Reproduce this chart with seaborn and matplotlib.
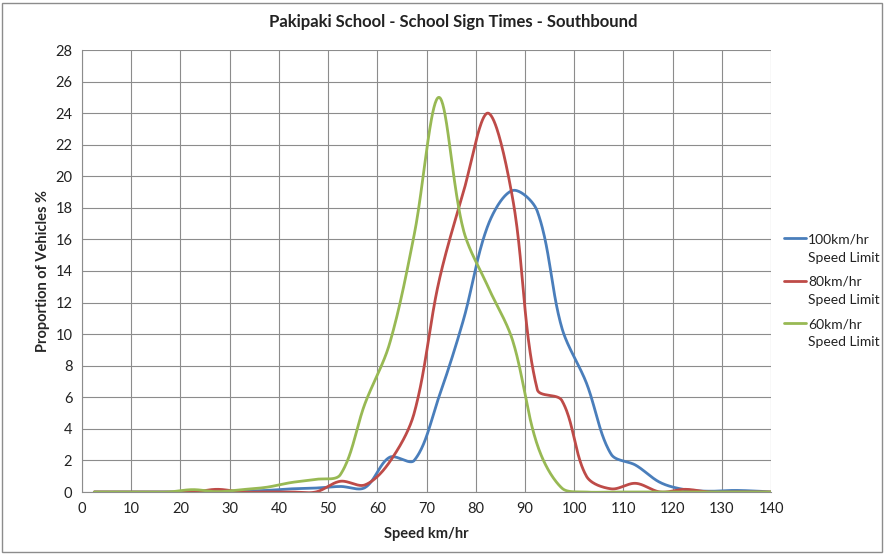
import matplotlib
matplotlib.use("Agg")
import matplotlib.pyplot as plt
from matplotlib.patches import Rectangle
from matplotlib.legend_handler import HandlerLine2D
import numpy as np
import pandas as pd
import seaborn as sns

# speed bins (km/hr), 5 km/hr bins plotted at their centres
speed = [2.5, 7.5, 12.5, 17.5, 22.5, 27.5, 32.5, 37.5, 42.5, 47.5,
         52.5, 57.5, 62.5, 67.5, 72.5, 77.5, 82.5, 87.5, 92.5, 97.5,
         102.5, 107.5, 112.5, 117.5, 122.5, 127.5, 132.5, 137.5, 140]

limit_100 = [0, 0, 0, 0, 0, 0, 0.05, 0.1, 0.2, 0.25,
             0.35, 0.28, 2.2, 2.0, 6.0, 10.9, 16.9, 19.1, 17.8, 10.4,
             6.9, 2.4, 1.7, 0.6, 0.15, 0.05, 0.1, 0.05, 0]
limit_80 = [0, 0, 0, 0, 0, 0.17, 0, 0, 0, 0,
            0.68, 0.45, 1.9, 5.0, 13.3, 19.0, 24.0, 18.6, 6.5, 5.8,
            1.0, 0.2, 0.55, 0, 0.17, 0, 0, 0, 0]
limit_60 = [0, 0, 0, 0, 0.15, 0.02, 0.15, 0.3, 0.6, 0.8,
            1.1, 5.6, 9.4, 16.3, 25.0, 16.6, 13.0, 9.6, 3.0, 0.25,
            0, 0, 0, 0, 0, 0, 0, 0, 0]

series_names = ["100km/hr\nSpeed Limit", "80km/hr\nSpeed Limit", "60km/hr\nSpeed Limit"]
colors = ["#4A7EBB", "#BE4B48", "#98B954"]

title = "Pakipaki School - School Sign Times - Southbound"
xlabel = "Speed km/hr"
ylabel = "Proportion of Vehicles %"

# rough pixel size of one data unit, used to weight the smoothing like excel does
XPX, YPX = 4.93, 15.79


def excel_smooth(x, y, n=40):
    # bezier smoothing close to excel's "smoothed line"
    pts = np.column_stack([np.asarray(x, float), np.asarray(y, float)])
    pts = np.vstack([pts[:1], pts, pts[-1:]])
    scale = np.array([XPX, YPX])
    t = np.linspace(0, 1, n, endpoint=False)[:, None]
    out = []
    for i in range(1, len(pts) - 2):
        p0, p1, p2, p3 = pts[i - 1], pts[i], pts[i + 1], pts[i + 2]
        d01 = np.linalg.norm((p1 - p0) * scale)
        d12 = np.linalg.norm((p2 - p1) * scale)
        d23 = np.linalg.norm((p3 - p2) * scale)
        f1 = d12 / (d01 + d12) if d01 + d12 > 0 else 0.5
        f2 = d12 / (d12 + d23) if d12 + d23 > 0 else 0.5
        c1 = p1 + (p2 - p0) * f1 / 3
        c2 = p2 - (p3 - p1) * f2 / 3
        b = (1 - t) ** 3 * p1 + 3 * (1 - t) ** 2 * t * c1 + 3 * (1 - t) * t ** 2 * c2 + t ** 3 * p2
        out.append(b)
    out.append(pts[-1:])
    out = np.vstack(out)
    return out[:, 0], out[:, 1]


frames = []
for name, vals in zip(series_names, [limit_100, limit_80, limit_60]):
    sx, sy = excel_smooth(speed, vals)
    frames.append(pd.DataFrame({"speed": sx, "pct": sy, "series": name}))
df = pd.concat(frames, ignore_index=True)


class RaisedLine(HandlerLine2D):
    # put the legend line level with the first line of a two-line label
    def create_artists(self, legend, orig_handle, xdescent, ydescent, width, height, fontsize, trans):
        artists = super().create_artists(legend, orig_handle, xdescent, ydescent, width, height, fontsize, trans)
        for a in artists:
            a.set_ydata(np.asarray(a.get_ydata()) + 0.75 * fontsize)
        return artists


sns.set_style("white")
plt.rcParams["font.family"] = ["Lato", "DejaVu Sans"]

fig, ax = plt.subplots(figsize=(8.85, 5.54), dpi=100)
fig.subplots_adjust(left=82 / 885, right=771 / 885, top=1 - 50 / 554, bottom=1 - 492 / 554)

sns.lineplot(
    data=df, x="speed", y="pct", hue="series",
    palette=colors, linewidth=2.0, sort=False, estimator=None, ax=ax,
)

ax.set_xlim(0, 140)
ax.set_ylim(0, 28)
ax.set_xticks(np.arange(0, 141, 10))
ax.set_yticks(np.arange(0, 29, 2))
ax.grid(True, color="#8c8c8c", linewidth=0.8)
ax.set_axisbelow(True)
for side in ["top", "right"]:
    ax.spines[side].set_visible(False)
for side in ["left", "bottom"]:
    ax.spines[side].set_color("#8c8c8c")
    ax.spines[side].set_linewidth(0.8)
ax.tick_params(axis="both", labelsize=10.5, colors="#8c8c8c", labelcolor="#222222",
               length=4, width=0.8, direction="out", pad=3)

ax.set_xlabel(xlabel, fontsize=10.5, fontweight="bold", labelpad=8)
ax.set_ylabel(ylabel, fontsize=10.5, fontweight="bold", labelpad=4)
fig.text(453 / 885, 1 - 22 / 554, title, fontsize=12, fontweight="bold",
         ha="center", va="center", color="#222222")

leg = ax.legend(
    loc="center left", bbox_to_anchor=(784 / 885, 1 - 291 / 554),
    bbox_transform=fig.transFigure, frameon=False, fontsize=10,
    handlelength=1.6, handletextpad=0.15, labelspacing=0.9,
    borderpad=0, borderaxespad=0,
    handler_map={matplotlib.lines.Line2D: RaisedLine()},
)
for txt in leg.get_texts():
    txt.set_linespacing(1.6)
    txt.set_color("#222222")

fig.patches.append(Rectangle((2 / 885, 2 / 554), 880 / 885, 549 / 554, transform=fig.transFigure,
                             fill=False, edgecolor="#8c8c8c", linewidth=1))

fig.savefig("out.png", dpi=100)
